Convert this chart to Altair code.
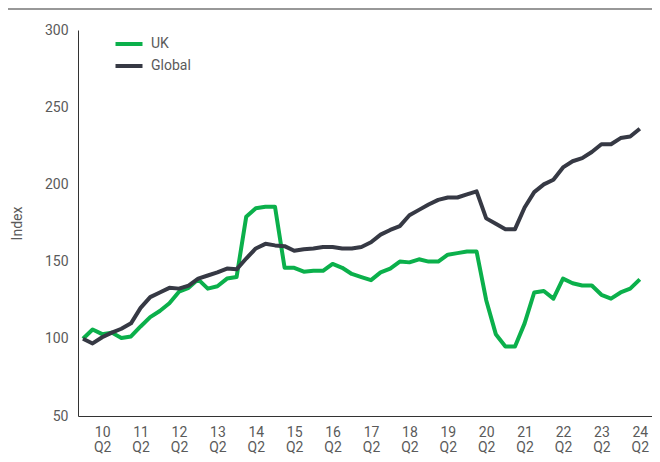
import altair as alt
import pandas as pd

# quarterly index, 2009 Q4 .. 2024 Q2
uk = [100, 106, 103, 104, 100.5, 101.5, 108, 114, 118, 123,
      130.5, 133, 138.5, 132.5, 134, 139, 140, 179, 184.5, 185.5,
      185.5, 146, 146, 143.5, 144, 144, 148.5, 146, 142, 140,
      138, 143, 145.5, 150, 149.5, 151.5, 150, 150, 154.5, 155.5,
      156.5, 156.5, 125, 103, 95, 95, 110, 130, 131, 126,
      139, 136, 134.5, 134.5, 128.5, 126, 130, 132.5, 138.5]
glob = [100, 97, 101, 104, 106.5, 110, 120, 127, 130, 133,
        132.5, 134.5, 139, 141, 143, 145.5, 145, 152, 158.5, 161.5,
        160.5, 160, 157, 158, 158.5, 159.5, 159.5, 158.5, 158.5, 159.5,
        162.5, 167.5, 170.5, 173, 180, 183.5, 187, 190, 191.5, 191.5,
        193.5, 195.5, 178, 174.5, 171, 171, 185, 195, 200, 203,
        211, 215, 217, 221, 226, 226, 230, 231, 236]
series_names = ["UK", "Global"]
colors = ["#0BB04B", "#363944"]
tick_years = list(range(10, 25))
y_ticks = [50, 100, 150, 200, 250, 300]

# index of each Q2 tick (0 = 2009 Q4)
tick_idx = [2 + 4 * (y - 10) for y in tick_years]

rows = []
for i, v in enumerate(uk):
    rows.append({"q": i, "value": v, "series": "UK"})
for i, v in enumerate(glob):
    rows.append({"q": i, "value": v, "series": "Global"})
df = pd.DataFrame(rows)

FONT = "Roboto"
LABEL_COLOR = "#5a5a5a"

lines = alt.Chart(df).mark_line(strokeWidth=4, strokeJoin="round").encode(
    x=alt.X("q:Q",
            scale=alt.Scale(domain=[-0.52, 59.27], nice=False, zero=False),
            axis=alt.Axis(values=tick_idx, title=None, ticks=False, grid=False,
                          labelExpr="[toString(10 + (datum.value - 2) / 4), 'Q2']",
                          labelLineHeight=15, labelPadding=9, labelOverlap=False,
                          labelFlush=False, labelFontSize=14, labelColor=LABEL_COLOR,
                          labelFont=FONT, domainColor="#333333", domainWidth=1)),
    y=alt.Y("value:Q",
            scale=alt.Scale(domain=[50, 300], nice=False, zero=False),
            axis=alt.Axis(values=y_ticks, title="Index", ticks=False, grid=False,
                          labelPadding=10, labelFontSize=14, labelColor=LABEL_COLOR,
                          labelFont=FONT, domainColor="#333333", domainWidth=1,
                          titleFont=FONT, titleFontSize=14, titleFontWeight="normal",
                          titleColor=LABEL_COLOR, titleX=-61, titleY=193,
                          titleAngle=-90, titleAlign="center", titleBaseline="middle")),
    color=alt.Color("series:N",
                    scale=alt.Scale(domain=series_names, range=colors),
                    sort=series_names,
                    legend=alt.Legend(title=None, orient="none", legendX=40, legendY=3,
                                      symbolType="M-1.5,0L1.5,0", symbolSize=324,
                                      symbolStrokeWidth=4, labelOffset=11,
                                      labelFontSize=14, labelColor=LABEL_COLOR,
                                      labelFont=FONT, rowPadding=3, padding=0)),
    order=alt.Order("q:Q"),
)

top_rule = alt.Chart(pd.DataFrame({"k": [0]})).mark_rule(
    color="#333333", strokeWidth=1.2
).encode(x=alt.value(-70), x2=alt.value(574), y=alt.value(-21))

chart = alt.layer(lines, top_rule).properties(
    width=574, height=386,
    autosize=alt.AutoSizeParams(type="none"),
    padding={"left": 70, "top": 22, "right": 0, "bottom": 38},
).configure_view(stroke=None)

chart.save("out.html", embed_options={"renderer": "svg", "actions": False})
